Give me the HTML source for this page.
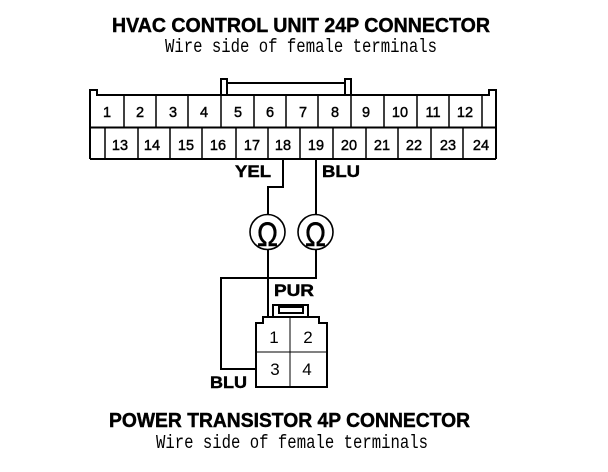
<!DOCTYPE html>
<html>
<head>
<meta charset="utf-8">
<style>
html,body{margin:0;padding:0;background:#fff;width:608px;height:472px;overflow:hidden}
svg{display:block}
.b{font-family:"Liberation Sans",sans-serif;font-weight:bold;fill:#000;stroke:#000;stroke-width:.45px}
.m{font-family:"Liberation Mono",monospace;font-size:19px;fill:#000}
.n{font-family:"Liberation Sans",sans-serif;font-size:14.5px;fill:#000;text-anchor:middle;stroke:#000;stroke-width:.45px}
.w{font-family:"Liberation Sans",sans-serif;font-size:17px;fill:#000;text-anchor:middle}
.o{font-family:"Liberation Sans",sans-serif;fill:#000;stroke:#000;stroke-width:.5px}
.l path,.l rect{fill:none;stroke:#000;shape-rendering:crispEdges}
.d{fill:none;stroke:#000;stroke-width:1.5px}
</style>
</head>
<body>
<svg width="608" height="472" viewBox="0 0 608 472" xmlns="http://www.w3.org/2000/svg">
<text class="b" x="112" y="32" font-size="20" textLength="378" lengthAdjust="spacingAndGlyphs">HVAC CONTROL UNIT 24P CONNECTOR</text>
<text class="m" x="165" y="52" textLength="272" lengthAdjust="spacingAndGlyphs">Wire side of female terminals</text>
<g class="l" stroke-width="2">
<path d="M90 159V90H97V95H221M351 95H489V90H496V159"/>
<path d="M90 159H496"/>
<path d="M90 127.5H496"/>
<path d="M221 95V79H227V95M227 83H345M345 95V79H351V95"/>
<path d="M221 95H351"/>
<path d="M283 159V187H268V215"/>
<path d="M316 159V215"/>
<path d="M268 250V317"/>
<path d="M316 250V278H221V369H256"/>
<path d="M256 387V323H263V317H319V323H327V387Z"/>
<path d="M273 317V305H308V317"/>
<rect x="279" y="307" width="24" height="6"/>
<path d="M290 317V387M256 352H327" stroke-width="1"/>
</g>
<path class="d" d="M124 95V127M156 95V127M188 95V127M221 95V127M254 95V127M286 95V127M318 95V127M351 95V127M384 95V127M417 95V127M449 95V127M482 95V127"/>
<path class="d" d="M105 127V159M138 127V159M170 127V159M202 127V159M236 127V159M268 127V159M300 127V159M333 127V159M366 127V159M398 127V159M431 127V159M463 127V159"/>
<g>
<circle cx="267.5" cy="232" r="17.5" fill="#fff" stroke="#000" stroke-width="1.6"/>
<circle cx="315.5" cy="232" r="17.5" fill="#fff" stroke="#000" stroke-width="1.6"/>
<text class="o" x="257" y="246" font-size="34" textLength="21" lengthAdjust="spacingAndGlyphs">Ω</text>
<text class="o" x="305" y="246" font-size="34" textLength="21" lengthAdjust="spacingAndGlyphs">Ω</text>
</g>
<g class="n">
<text x="107" y="117">1</text><text x="140" y="117">2</text><text x="173" y="117">3</text><text x="204" y="117">4</text><text x="238" y="117">5</text><text x="270" y="117">6</text><text x="303" y="117">7</text><text x="335" y="117">8</text><text x="366" y="117">9</text><text x="400" y="117">10</text><text x="433" y="117">11</text><text x="465" y="117">12</text>
<text x="120" y="150">13</text><text x="152" y="150">14</text><text x="186" y="150">15</text><text x="218" y="150">16</text><text x="252" y="150">17</text><text x="283" y="150">18</text><text x="316" y="150">19</text><text x="349" y="150">20</text><text x="382" y="150">21</text><text x="414" y="150">22</text><text x="448" y="150">23</text><text x="481" y="150">24</text>
</g>
<text class="b" x="235" y="177" font-size="17" textLength="36" lengthAdjust="spacingAndGlyphs">YEL</text>
<text class="b" x="322" y="177" font-size="17" textLength="38" lengthAdjust="spacingAndGlyphs">BLU</text>
<text class="b" x="274" y="296" font-size="17" textLength="40" lengthAdjust="spacingAndGlyphs">PUR</text>
<text class="b" x="210" y="388" font-size="17" textLength="37" lengthAdjust="spacingAndGlyphs">BLU</text>
<g class="w">
<text x="274" y="343">1</text><text x="308" y="343">2</text><text x="275" y="375">3</text><text x="307" y="375">4</text>
</g>
<text class="b" x="109" y="427" font-size="20" textLength="361" lengthAdjust="spacingAndGlyphs">POWER TRANSISTOR 4P CONNECTOR</text>
<text class="m" x="156" y="448" textLength="272" lengthAdjust="spacingAndGlyphs">Wire side of female terminals</text>
</svg>
</body>
</html>
